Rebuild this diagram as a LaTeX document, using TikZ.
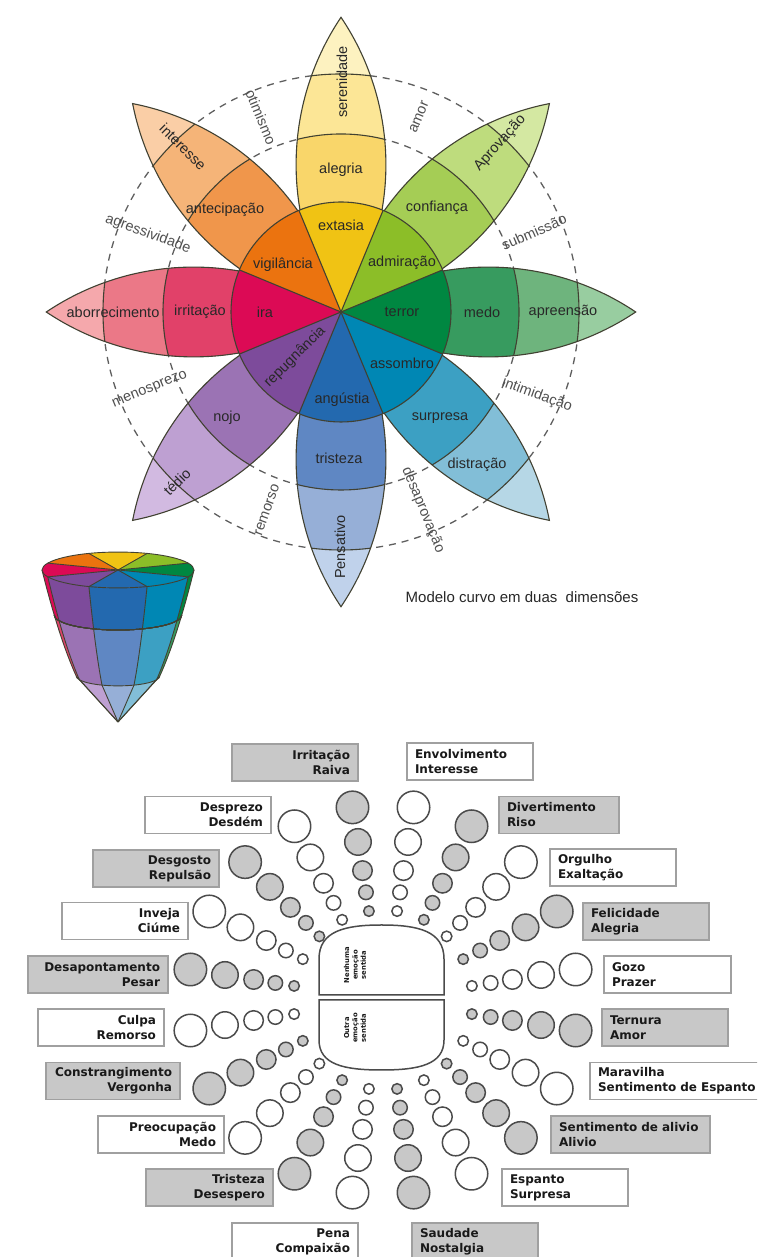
\documentclass[tikz,border=0pt]{standalone}
\usepackage{fontspec}
\setmainfont{Liberation Sans}
\newfontfamily\boxfont{DejaVu Sans}
\usetikzlibrary{calc}

% petal colours: 0 = core wedge, 1 = first band, 2 = second band, 3 = tip
\definecolor{y0}{RGB}{240,195,20}  \definecolor{y1}{RGB}{249,214,106}
\definecolor{y2}{RGB}{252,230,150} \definecolor{y3}{RGB}{253,242,192}
\definecolor{g0}{RGB}{140,190,40}  \definecolor{g1}{RGB}{165,205,85}
\definecolor{g2}{RGB}{190,220,125} \definecolor{g3}{RGB}{212,232,162}
\definecolor{d0}{RGB}{0,135,65}    \definecolor{d1}{RGB}{55,155,95}
\definecolor{d2}{RGB}{110,180,125} \definecolor{d3}{RGB}{152,205,160}
\definecolor{t0}{RGB}{0,135,180}   \definecolor{t1}{RGB}{60,160,195}
\definecolor{t2}{RGB}{130,190,215} \definecolor{t3}{RGB}{182,215,230}
\definecolor{b0}{RGB}{35,105,175}  \definecolor{b1}{RGB}{95,135,195}
\definecolor{b2}{RGB}{150,175,215} \definecolor{b3}{RGB}{192,210,235}
\definecolor{p0}{RGB}{125,75,155}  \definecolor{p1}{RGB}{155,115,180}
\definecolor{p2}{RGB}{190,160,210} \definecolor{p3}{RGB}{210,186,225}
\definecolor{r0}{RGB}{220,10,85}   \definecolor{r1}{RGB}{225,65,105}
\definecolor{r2}{RGB}{235,120,135} \definecolor{r3}{RGB}{245,168,172}
\definecolor{o0}{RGB}{235,115,15}  \definecolor{o1}{RGB}{240,150,75}
\definecolor{o2}{RGB}{245,180,120} \definecolor{o3}{RGB}{250,206,166}
\definecolor{outline}{RGB}{65,65,50}
\definecolor{labtext}{RGB}{40,40,40}
\definecolor{dyadtext}{RGB}{80,80,80}
\definecolor{dashgray}{RGB}{95,95,95}
\definecolor{gfill}{RGB}{200,200,200}
\definecolor{boxline}{RGB}{160,160,160}
\definecolor{bubbleline}{RGB}{75,75,75}
\definecolor{boxtext}{RGB}{25,25,25}

% one lens-shaped petal along the x axis, rotated to its angle
\newcommand\petal[4]{%
  \begin{scope}[rotate=#1]
    \begin{scope}
      \clip (0,0) arc[start angle=123.9,end angle=56.1,radius=264.2]
            arc[start angle=-56.1,end angle=-123.9,radius=264.2] -- cycle;
      \fill[#4] (0,0) circle (300);
      \fill[#3] (0,0) circle (238);
      \fill[#2] (0,0) circle (178);
      \draw[petalline] (0,0) circle (178) (0,0) circle (238);
    \end{scope}
    \draw[petalline] (0,0) arc[start angle=123.9,end angle=56.1,radius=264.2]
          arc[start angle=-56.1,end angle=-123.9,radius=264.2] -- cycle;
  \end{scope}}

% core wedge of the inner circle
\newcommand\pwedge[2]{%
  \fill[#2] (0,0) -- ({#1-22.5}:110)
    arc[start angle={#1-22.5},end angle={#1+22.5},radius=110] -- cycle;}

% one coloured patch of the bowl's curved side
% #1,#2 angles; #3,#4 depths; #5,#6 radii at #3; #7,#8 radii at #4; #9 colour
\newcommand\conepatch[9]{%
  \fill[#9] plot[domain=#3:#4,samples=12,variable=\u]
      ({76*sqrt(max(0,1-\u/152))*cos(#1)},{-\u+17.94*sqrt(max(0,1-\u/152))*sin(#1)})
    arc[start angle=#1,end angle=#2,x radius=#7,y radius=#8]
    -- plot[domain=#4:#3,samples=12,variable=\u]
      ({76*sqrt(max(0,1-\u/152))*cos(#2)},{-\u+17.94*sqrt(max(0,1-\u/152))*sin(#2)})
    arc[start angle=#2,end angle=#1,x radius=#5,y radius=#6] -- cycle;}

% lowest patch, closing in a point at the apex
\newcommand\conetip[3]{%
  \fill[#3] (kapex) -- ($(k2)+(#2:41.8 and 9.87)$)
    arc[start angle=#2,end angle=#1,x radius=41.8,y radius=9.87] -- cycle;}

% meridian line of the bowl
\newcommand\conemerid[1]{%
  \draw[coneline] plot[domain=0:106,samples=20,variable=\u]
      ({76*sqrt(max(0,1-\u/152))*cos(#1)},{-\u+17.94*sqrt(max(0,1-\u/152))*sin(#1)})
      -- (kapex);}

\begin{document}
\begin{tikzpicture}[x=1pt,y=1pt,
  petalline/.style={draw=outline,line width=1.1pt},
  dyadline/.style={draw=dashgray,line width=1.3pt,dash pattern=on 7pt off 6pt},
  lab/.style={font=\fontsize{14.5}{17}\selectfont,text=labtext,inner sep=0pt},
  dyad/.style={font=\fontsize{14.5}{17}\selectfont,text=dyadtext,inner sep=0pt},
  coneline/.style={draw=outline,line width=0.9pt,line join=round},
  bubble/.style={circle,draw=bubbleline,line width=1.5pt,inner sep=0pt},
  gbox/.style={draw=boxline,line width=1.2pt,minimum height=37pt,
    inner xsep=8pt,inner ysep=0pt,text=boxtext,
    font=\boxfont\bfseries\fontsize{12}{15}\selectfont},
  gl/.style={gbox,align=right},
  gr/.style={gbox,align=left},
  centre/.style={draw=bubbleline,line width=1.5pt,fill=white},
  tiny/.style={font=\boxfont\bfseries\fontsize{6.8}{8.3}\selectfont,
    text=boxtext,align=center,rotate=90,inner sep=0pt}]

\clip (0,0) rectangle (757,1257);
\fill[white] (0,0) rectangle (757,1257);

% ---------------- flower of emotions ----------------
\coordinate (C) at (341,945);
\begin{scope}[shift={(C)}]
  \draw[dyadline] (0,0) circle (178) (0,0) circle (238);
  \petal{90}{y1}{y2}{y3}
  \petal{45}{g1}{g2}{g3}
  \petal{0}{d1}{d2}{d3}
  \petal{-45}{t1}{t2}{t3}
  \petal{-90}{b1}{b2}{b3}
  \petal{-135}{p1}{p2}{p3}
  \petal{180}{r1}{r2}{r3}
  \petal{135}{o1}{o2}{o3}
  \pwedge{90}{y0}  \pwedge{45}{g0}  \pwedge{0}{d0}   \pwedge{-45}{t0}
  \pwedge{-90}{b0} \pwedge{-135}{p0} \pwedge{180}{r0} \pwedge{135}{o0}
  \draw[petalline] (0,0) circle (110);
  \foreach \a in {22.5,67.5,...,337.5} \draw[petalline] (0,0) -- (\a:110);

  % petal labels
  \node[lab] (extasia) at (0,87) {extasia};
  \node[lab] (alegria) at (0,142) {alegria};
  \node[lab,rotate=90] (serenidade) at (1,230) {serenidade};
  \node[lab] (admiracao) at (61,49) {admiração};
  \node[lab] (confianca) at (96,104) {confiança};
  \node[lab,rotate=48] (aprovacao) at (159,169) {Aprovação};
  \node[lab] (terror) at (61,0) {terror};
  \node[lab] (medo) at (141,0) {medo};
  \node[lab] (apreensao) at (222,0) {apreensão};
  \node[lab] (assombro) at (61,-51) {assombro};
  \node[lab] (surpresa) at (99,-106) {surpresa};
  \node[lab] (distracao) at (136,-153) {distração};
  \node[lab] (angustia) at (1,-88) {angústia};
  \node[lab] (tristeza) at (-2,-146) {tristeza};
  \node[lab,rotate=90] (pensativo) at (-1,-235) {Pensativo};
  \node[lab,rotate=45] (repugnancia) at (-46,-45) {repugnância};
  \node[lab] (nojo) at (-114,-106) {nojo};
  \node[lab,rotate=45] (tedio) at (-164,-170) {tédio};
  \node[lab] (ira) at (-76,0) {ira};
  \node[lab] (irritacaoP) at (-141,0) {irritação};
  \node[lab] (aborrecimento) at (-228,0) {aborrecimento};
  \node[lab] (vigilancia) at (-58,47) {vigilância};
  \node[lab] (antecipacao) at (-116,102) {antecipação};
  \node[lab,rotate=-45] (interesse) at (-158,165) {interesse};

  % dyads between the petals
  \node[dyad,rotate=-67.5] (otimismo) at (-80,195) {otimismo};
  \node[dyad,rotate=67.5] (amor) at (78,195) {amor};
  \node[dyad,rotate=24] (submissao) at (193,80) {submissão};
  \node[dyad,rotate=-20] (intimidacao) at (196,-83) {intimidação};
  \node[dyad,rotate=-67.5] (desaprovacao) at (82,-198) {desaprovação};
  \node[dyad,rotate=70] (remorso) at (-74,-198) {remorso};
  \node[dyad,rotate=22.5] (menosprezo) at (-191,-78) {menosprezo};
  \node[dyad,rotate=-20] (agressividade) at (-193,78) {agressividade};
\end{scope}

\node[font=\fontsize{15}{18}\selectfont,text=labtext,inner sep=0pt]
  (modelo) at (522,660) {Modelo curvo em duas~~dimensões};

% ---------------- bowl-shaped solid ----------------
\begin{scope}[shift={(118,687)}]
  \coordinate (k2) at (0,-106);
  \coordinate (kapex) at (0,-152);
  \foreach \a/\b/\ca/\cb/\cc in {180/202.5/r0/r1/r2, 202.5/247.5/p0/p1/p2,
      247.5/292.5/b0/b1/b2, 292.5/337.5/t0/t1/t2, 337.5/360/d0/d1/d2} {
    \conepatch{\a}{\b}{0}{45}{76}{17.94}{63.8}{15.06}{\ca}
    \conepatch{\a}{\b}{45}{106}{63.8}{15.06}{41.8}{9.87}{\cb}
    \conetip{\a}{\b}{\cc}
  }
  \foreach \a in {180,202.5,247.5,292.5,337.5,360} \conemerid{\a}
  \draw[coneline] (0,-45) ++(180:63.8 and 15.06)
      arc[start angle=180,end angle=360,x radius=63.8,y radius=15.06];
  \draw[coneline] (k2) ++(180:41.8 and 9.87)
      arc[start angle=180,end angle=360,x radius=41.8,y radius=9.87];
  \foreach \a/\c in {90/y0,45/g0,0/d0,-45/t0,-90/b0,-135/p0,180/r0,135/o0}
    \fill[\c] (0,0) -- ({\a-22.5}:76 and 17.94)
      arc[start angle={\a-22.5},end angle={\a+22.5},x radius=76,y radius=17.94] -- cycle;
  \foreach \a in {22.5,67.5,...,337.5} \draw[coneline] (0,0) -- (\a:76 and 17.94);
  \draw[coneline] (0,0) ellipse [x radius=76,y radius=17.94];
\end{scope}

% ---------------- wheel of felt emotions ----------------
\coordinate (G) at (383,257);
\draw[centre] (319,262) -- (319,298) .. controls (319,326) and (345,332) .. (381.5,332)
  .. controls (418,332) and (444,326) .. (444,298) -- (444,262) -- cycle;
\draw[centre] (319,257) -- (444,257) -- (444,217) .. controls (444,192) and (418,187) .. (381.5,187)
  .. controls (345,187) and (319,192) .. (319,217) -- cycle;
\node[tiny] (nenhuma) at (355,292) {Nenhuma\\emoção\\sentida};
\node[tiny] (outra) at (355,229) {Outra\\emoção\\sentida};

\begin{scope}[shift={(G)}]
  \foreach \ang/\fc/\nm in {99/gfill/irr, 117/white/dpz, 135/gfill/dsg, 153/white/inv,
      171/gfill/dsa, 189/white/clp, 207/gfill/cns, 225/white/prc, 243/gfill/trs,
      261/white/pen, 81/white/env, 63/gfill/div, 45/white/org, 27/gfill/fel,
      9/white/goz, -9/gfill/ter, -27/white/mar, -45/gfill/alv, -63/white/esp,
      -81/gfill/sau} {
    \foreach \d/\r [count=\i] in {90/6,109/8,131/10.5,160/14,195/17}
      \node[bubble,fill=\fc,minimum size={2*\r*1pt-1.5pt}] (\nm-\i) at (\ang:\d) {};
  }
\end{scope}

% labels on the left
\node[gl,fill=gfill,text width=110pt] (irritacao) at (295,494.5) {Irritação\\Raiva};
\node[gl,fill=white,text width=110pt] (desprezo) at (208,442) {Desprezo\\Desdém};
\node[gl,fill=gfill,text width=110pt] (desgosto) at (156,388.5) {Desgosto\\Repulsão};
\node[gl,fill=white,text width=110pt] (inveja) at (125,336) {Inveja\\Ciúme};
\node[gl,fill=gfill,text width=124pt] (desapontamento) at (98,282.5) {Desapontamento\\Pesar};
\node[gl,fill=white,text width=110pt] (culpa) at (101,229.5) {Culpa\\Remorso};
\node[gl,fill=gfill,text width=118pt] (constrangimento) at (113,176) {Constrangimento\\Vergonha};
\node[gl,fill=white,text width=110pt] (preocupacao) at (161,122.5) {Preocupação\\Medo};
\node[gl,fill=gfill,text width=111pt] (tristezaG) at (209.5,69.5) {Tristeza\\Desespero};
\node[gl,fill=white,text width=110pt] (pena) at (295,15.5) {Pena\\Compaixão};

% labels on the right
\node[gr,fill=white,text width=110pt] (envolvimento) at (470,495.5) {Envolvimento\\Interesse};
\node[gr,fill=gfill,text width=104pt] (divertimento) at (559,442) {Divertimento\\Riso};
\node[gr,fill=white,text width=110pt] (orgulho) at (613,389.5) {Orgulho\\Exaltação};
\node[gr,fill=gfill,text width=110pt] (felicidade) at (646,335.5) {Felicidade\\Alegria};
\node[gr,fill=white,text width=111pt] (gozo) at (667.5,282.5) {Gozo\\Prazer};
\node[gr,fill=gfill,text width=110pt] (ternura) at (665,229.5) {Ternura\\Amor};
\node[gr,fill=white,text width=169pt] (maravilha) at (682.5,176) {Maravilha\\Sentimento de Espanto};
\node[gr,fill=gfill,text width=143pt] (alivio) at (630.5,122.5) {Sentimento de alivio\\Alivio};
\node[gr,fill=white,text width=110pt] (espantoG) at (565,69.5) {Espanto\\Surpresa};
\node[gr,fill=gfill,text width=110pt] (saudade) at (475,15.5) {Saudade\\Nostalgia};
\end{tikzpicture}
\end{document}
